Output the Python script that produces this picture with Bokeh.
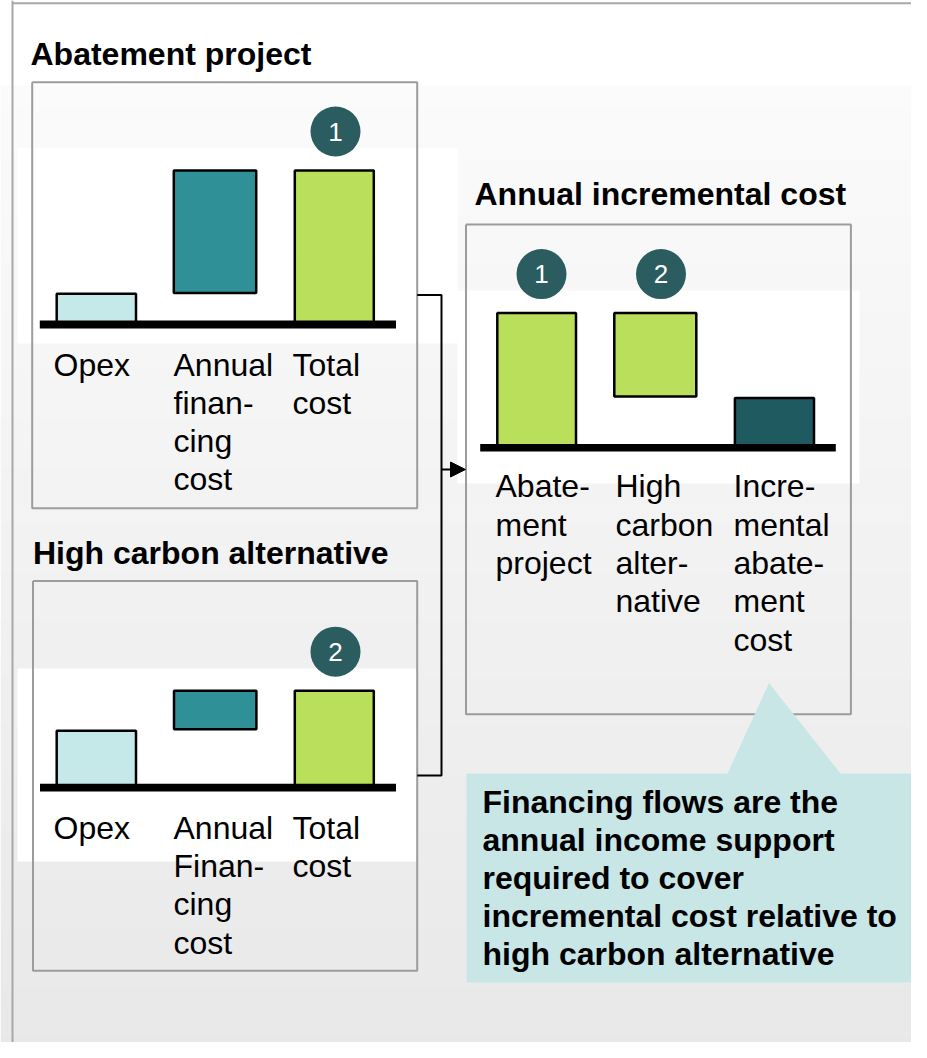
from bokeh.plotting import figure
from bokeh.models import Range1d, Arrow, NormalHead, ColumnDataSource
from bokeh.core.properties import value
from bokeh.embed import file_html
from bokeh.resources import INLINE

# ---------------- data ----------------
panel_titles = ["Abatement project", "High carbon alternative", "Annual incremental cost"]

project_labels = ["Opex", "Annual\nfinan-\ncing\ncost", "Total\ncost"]
project_low = [0, 20.5, 0]
project_high = [20, 100, 100]
project_colors = ["#c5e8e8", "#2f9097", "#badf5b"]
project_marker_bars = [2]
project_marker_text = ["1"]

alternative_labels = ["Opex", "Annual\nFinan-\ncing\ncost", "Total\ncost"]
alternative_low = [0, 38, 0]
alternative_high = [37, 63, 63]
alternative_colors = ["#c5e8e8", "#2f9097", "#badf5b"]
alternative_marker_bars = [2]
alternative_marker_text = ["2"]

incremental_labels = ["Abate-\nment\nproject", "High\ncarbon\nalter-\nnative",
                      "Incre-\nmental\nabate-\nment\ncost"]
incremental_low = [0, 38, 0]
incremental_high = [100, 100, 37]
incremental_colors = ["#badf5b", "#badf5b", "#1f5a60"]
incremental_marker_bars = [0, 1]
incremental_marker_text = ["1", "2"]

callout_lines = ["Financing flows are the", "annual income support", "required to cover",
                 "incremental cost relative to", "high carbon alternative"]

# ---------------- layout ----------------
W, H = 911, 1042
X0, Y0 = 0, 0
FONT = value("Liberation Sans")
FS = "32px"
LINE_STEP = 38.3
BASE_FIX = -11   # renderer places alphabetic text lower than the nominal baseline

p = figure(width=W, height=H, output_backend="svg", toolbar_location=None,
           x_range=Range1d(X0, X0 + W), y_range=Range1d(Y0 + H, Y0),
           x_axis_type=None, y_axis_type=None, min_border=0)
p.grid.visible = False
p.outline_line_color = None
p.background_fill_color = "#ffffff"
p.border_fill_color = "#ffffff"

# background gradient (style only)
n = 120
g_top, g_bot = 85.0, 1058.0
lefts, rights, tops, bots, cols = [], [], [], [], []
for i in range(n):
    t0 = g_top + (g_bot - g_top) * i / n
    t1 = g_top + (g_bot - g_top) * (i + 1) / n
    c = int(round(251 - 19 * (i + 0.5) / n))
    lefts.append(0); rights.append(930); tops.append(t0); bots.append(t1 + 0.6)
    cols.append("#%02x%02x%02x" % (c, c, c))
p.quad(left=lefts, right=rights, top=tops, bottom=bots, fill_color=cols, line_color=None)

# white bands behind the embedded charts
p.quad(left=[17, 457, 17], right=[457, 859, 417], top=[148, 290, 668], bottom=[343, 483, 861],
       fill_color="#ffffff", line_color=None)

# outer frame
p.line([12, 12], [0, 1060], line_color="#a8a8a8", line_width=2)
p.line([12, 930], [2.7, 2.7], line_color="#a8a8a8", line_width=2)

panels = [
    dict(name="A", title=panel_titles[0], labels=project_labels, low=project_low, high=project_high,
         colors=project_colors, mbars=project_marker_bars, mtext=project_marker_text,
         box=(31.7, 81.7, 416.7, 507.7), title_xy=(30, 64.5), base=(39.3, 395.5, 320, 328),
         zero=324, k=1.54, bar_left=[56.2, 173.3, 294.3], bar_w=[79.3, 82.4, 79.0],
         label_x=[53, 173, 292], label_y=375, marker_x=[335]),
    dict(name="B", title=panel_titles[1], labels=alternative_labels, low=alternative_low,
         high=alternative_high, colors=alternative_colors, mbars=alternative_marker_bars,
         mtext=alternative_marker_text,
         box=(32.5, 580.5, 416.7, 970.2), title_xy=(32.5, 563.7), base=(39.5, 395.5, 783.3, 791),
         zero=787.2, k=1.54, bar_left=[56.2, 173.5, 294.3], bar_w=[79.3, 82.4, 79.0],
         label_x=[53, 173, 292], label_y=838.3, marker_x=[335]),
    dict(name="C", title=panel_titles[2], labels=incremental_labels, low=incremental_low,
         high=incremental_high, colors=incremental_colors, mbars=incremental_marker_bars,
         mtext=incremental_marker_text,
         box=(465.5, 224, 850.4, 713.7), title_xy=(474, 204), base=(479.7, 835.3, 443.4, 451),
         zero=447.2, k=1.346, bar_left=[496.8, 613.8, 734.4], bar_w=[78.7, 82.0, 79.1],
         label_x=[495, 615, 733], label_y=496.8, marker_x=[541, 660.5]),
]

for pan in panels:
    nm, k, z = pan["name"], pan["k"], pan["zero"]
    # value scale for this panel: v=0 at baseline, k px per unit
    p.extra_y_ranges[nm] = Range1d(start=(z - (Y0 + H)) / k, end=(z - Y0) / k)

    l, t, r, b = pan["box"]
    p.line([l, r, r, l, l], [t, t, b, b, t], line_color="#9c9c9c", line_width=2)

    tx, ty = pan["title_xy"]
    p.text(x=[tx], y=[ty + BASE_FIX], text=[pan["title"]], text_font=FONT, text_font_style="bold",
           text_font_size=FS, text_color="#000000", text_baseline="alphabetic", text_align="left")

    src = ColumnDataSource(dict(
        left=pan["bar_left"],
        right=[a + w for a, w in zip(pan["bar_left"], pan["bar_w"])],
        bottom=pan["low"], top=pan["high"], color=pan["colors"]))
    p.quad(left="left", right="right", bottom="bottom", top="top", fill_color="color",
           line_color="#000000", line_width=2.5, source=src, y_range_name=nm)

    bx0, bx1, by0, by1 = pan["base"]
    p.quad(left=[bx0], right=[bx1], top=[by0], bottom=[by1], fill_color="#000000", line_color=None)

    # category labels, one text per line
    xs, ys, txt = [], [], []
    for lx, lab in zip(pan["label_x"], pan["labels"]):
        for j, line in enumerate(lab.split("\n")):
            xs.append(lx); ys.append(pan["label_y"] + j * LINE_STEP + BASE_FIX); txt.append(line)
    p.text(x=xs, y=ys, text=txt, text_font=FONT, text_font_size=FS, text_color="#000000",
           text_baseline="alphabetic", text_align="left")

    # numbered markers above bars
    my = [pan["high"][i] + 39.0 / k for i in pan["mbars"]]
    p.scatter(x=pan["marker_x"], y=my, size=50, marker="circle", fill_color="#2b5c60",
              line_color=None, y_range_name=nm)
    p.text(x=pan["marker_x"], y=my, text=pan["mtext"], text_font=FONT, text_font_size="26px",
           text_color="#ffffff", text_align="center", text_baseline="middle", y_range_name=nm)

# connectors and arrow
p.line([416.7, 441, 441, 416.7], [294.5, 294.5, 775, 775], line_color="#000000", line_width=2)
p.add_layout(Arrow(end=NormalHead(size=15, fill_color="#000000", line_color="#000000"),
                   x_start=441, y_start=469, x_end=465, y_end=469,
                   line_color="#000000", line_width=2))

# callout
p.patch([466, 727, 768.5, 840, 913.7, 913.7, 466],
        [773, 773, 682.5, 773, 773, 982, 982], fill_color="#c8e6e6", line_color=None)
p.text(x=[482] * len(callout_lines),
       y=[812.7 + i * 38 + BASE_FIX for i in range(len(callout_lines))],
       text=callout_lines, text_font=FONT, text_font_style="bold", text_font_size=FS,
       text_color="#000000", text_baseline="alphabetic", text_align="left")

open("out.html", "w").write(file_html(p, INLINE))
